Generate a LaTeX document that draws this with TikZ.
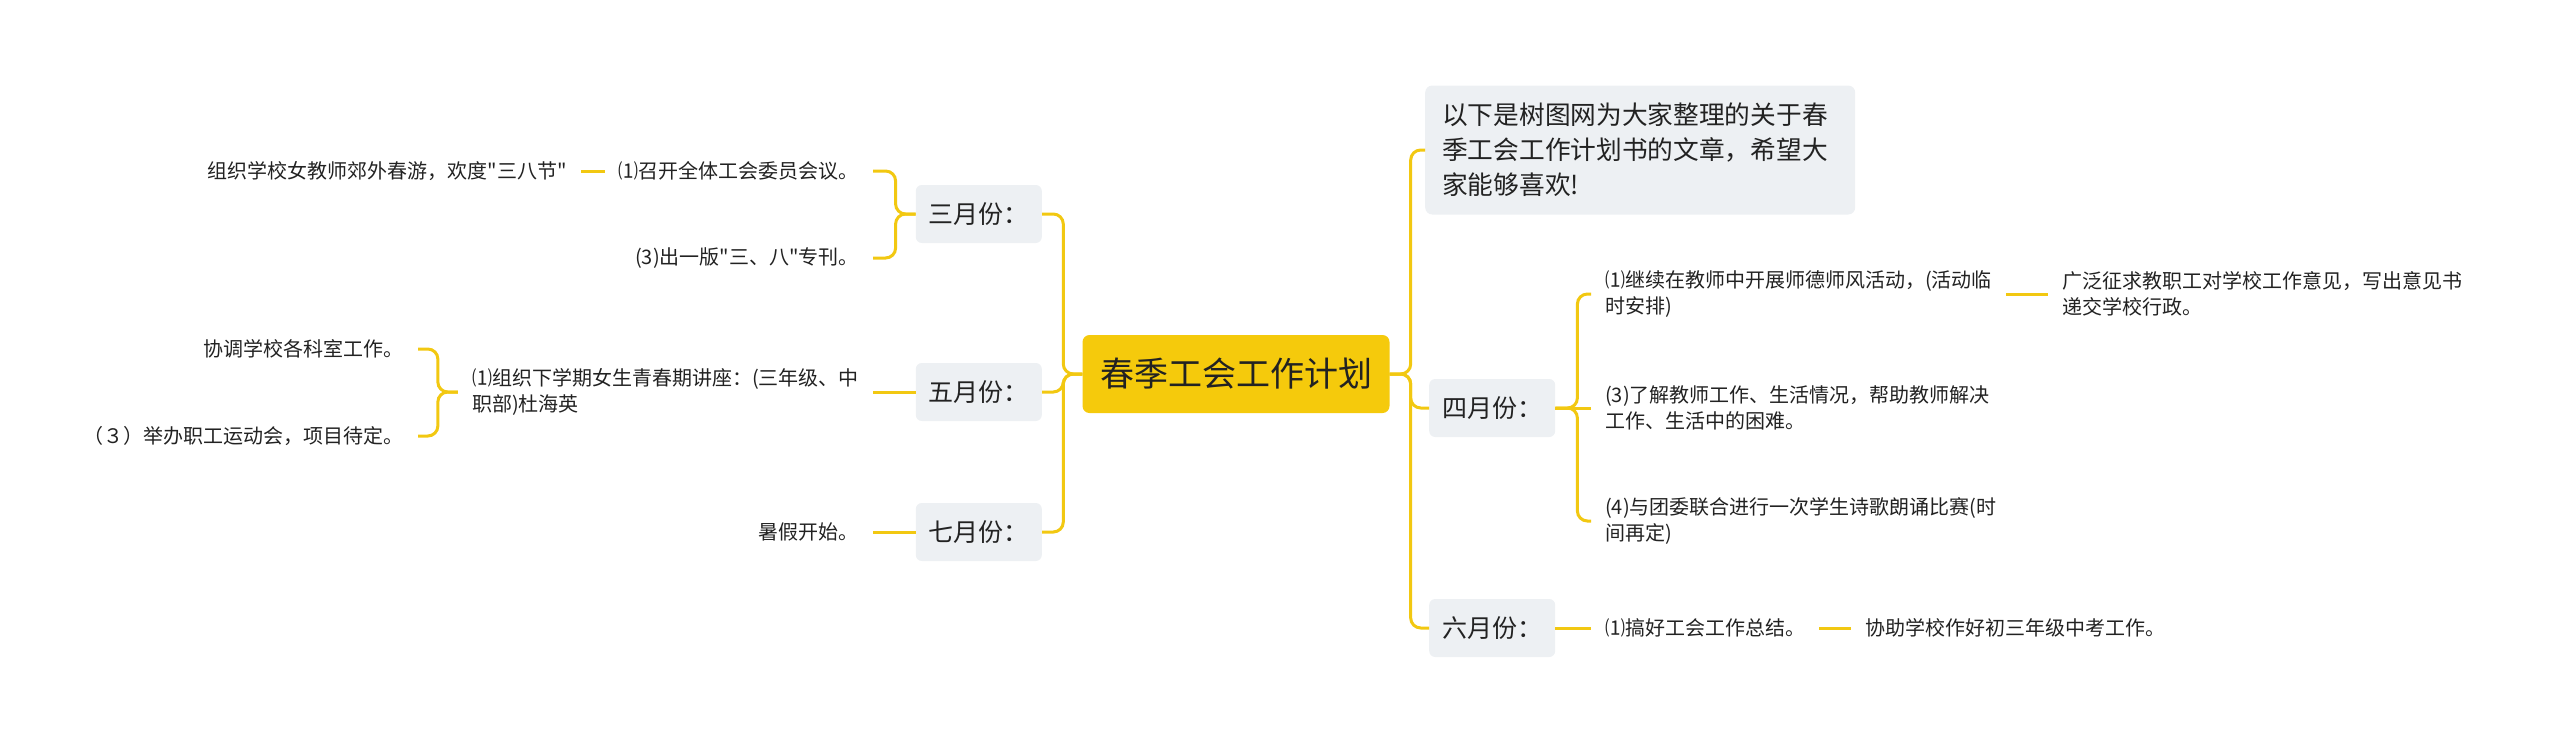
\documentclass[tikz,border=0pt]{standalone}
\usepackage{fontspec}
\setmainfont{Noto Sans CJK SC}[Ligatures=TeXOff]
\usepackage{xcolor}
\usepackage{tikz}
\usetikzlibrary{positioning}

\definecolor{plangold}{HTML}{F5CA0C}
\definecolor{linegold}{HTML}{F2C811}
\definecolor{boxgray}{HTML}{EDF0F3}
\definecolor{ink}{HTML}{222222}

\begin{document}
\begin{tikzpicture}[
    x=1pt, y=-1pt,
    rootbox/.style={
        rectangle,
        rounded corners=7pt,
        fill=plangold,
        minimum width=307pt,
        minimum height=78pt,
        text=ink,
        font=\fontsize{34}{40}\selectfont
    },
    monthbox/.style={
        rectangle,
        rounded corners=6pt,
        fill=boxgray,
        minimum height=58pt,
        inner xsep=13pt,
        text=ink,
        font=\fontsize{25}{30}\selectfont
    },
    introbox/.style={
        rectangle,
        rounded corners=7pt,
        fill=boxgray,
        text width=396pt,
        minimum height=129pt,
        inner xsep=17pt,
        align=left,
        text=ink,
        font=\fontsize{25.7}{35}\selectfont
    },
    leaf/.style={
        inner xsep=14pt,
        inner ysep=3pt,
        align=left,
        text=ink,
        font=\fontsize{20}{25.5}\selectfont
    },
    link/.style={
        draw=linegold,
        line width=3pt,
        rounded corners=10pt
    }
]
\useasboundingbox (0,0) rectangle (2560,748);

% === Root ===
\node[rootbox] (plan) at (1236,374) {春季工会工作计划};

% === Right side ===
\node[introbox, anchor=west] (intro) at (1425,150) {以下是树图网为大家整理的关于春\\季工会工作计划书的文章，希望大\\家能够喜欢!};
\node[monthbox, anchor=west] (april) at (1429,408) {四月份：};
\node[monthbox, anchor=west] (june) at (1429,628) {六月份：};

\node[leaf, anchor=west] (april1) at (1591,294) {⑴继续在教师中开展师德师风活动，(活动临\\时安排)};
\node[leaf, anchor=west] (april3) at (1591,408) {(3)了解教师工作、生活情况，帮助教师解决\\工作、生活中的困难。};
\node[leaf, anchor=west] (april4) at (1591,521) {(4)与团委联合进行一次学生诗歌朗诵比赛(时\\间再定)};
\node[leaf, anchor=west] (opinion) at (2048,294) {广泛征求教职工对学校工作意见，写出意见书\\递交学校行政。};

\node[leaf, anchor=west] (june1) at (1591,628) {⑴搞好工会工作总结。};
\node[leaf, anchor=west] (exam) at (1851,628) {协助学校作好初三年级中考工作。};

% === Left side ===
\node[monthbox, anchor=east] (march) at (1042,214) {三月份：};
\node[monthbox, anchor=east] (may) at (1042,392) {五月份：};
\node[monthbox, anchor=east] (july) at (1042,532) {七月份：};

\node[leaf, anchor=east] (march1) at (873,171) {⑴召开全体工会委员会议。};
\node[leaf, anchor=east] (march3) at (873,258) {(3)出一版"三、八"专刊。};
\node[leaf, anchor=east] (outing) at (581,171) {组织学校女教师郊外春游，欢度"三八节"};

\node[leaf, anchor=east] (may1) at (873,392) {⑴组织下学期女生青春期讲座：(三年级、中\\职部)杜海英};
\node[leaf, anchor=east] (offices) at (418,349) {协调学校各科室工作。};
\node[leaf, anchor=east] (sports) at (418,436) {（３）举办职工运动会，项目待定。};

\node[leaf, anchor=east] (july1) at (873,532) {暑假开始。};

% === Connectors ===
\draw[link] (plan.east) -- ++(21,0) |- (intro.west);
\draw[link] (plan.east) -- ++(21,0) |- (april.west);
\draw[link] (plan.east) -- ++(21,0) |- (june.west);
\draw[link] (april.east) -- ++(22,0) |- (april1.west);
\draw[link] (april.east) -- (april3.west);
\draw[link] (april.east) -- ++(22,0) |- (april4.west);
\draw[link] (april1.east) -- (opinion.west);
\draw[link] (june.east) -- (june1.west);
\draw[link] (june1.east) -- (exam.west);

\draw[link] (plan.west) -- ++(-19,0) |- (march.east);
\draw[link] (plan.west) -- ++(-19,0) |- (may.east);
\draw[link] (plan.west) -- ++(-19,0) |- (july.east);
\draw[link] (march.west) -- ++(-20,0) |- (march1.east);
\draw[link] (march.west) -- ++(-20,0) |- (march3.east);
\draw[link] (march1.west) -- (outing.east);
\draw[link] (may.west) -- (may1.east);
\draw[link] (may1.west) -- ++(-20,0) |- (offices.east);
\draw[link] (may1.west) -- ++(-20,0) |- (sports.east);
\draw[link] (july.west) -- (july1.east);
\end{tikzpicture}
\end{document}
